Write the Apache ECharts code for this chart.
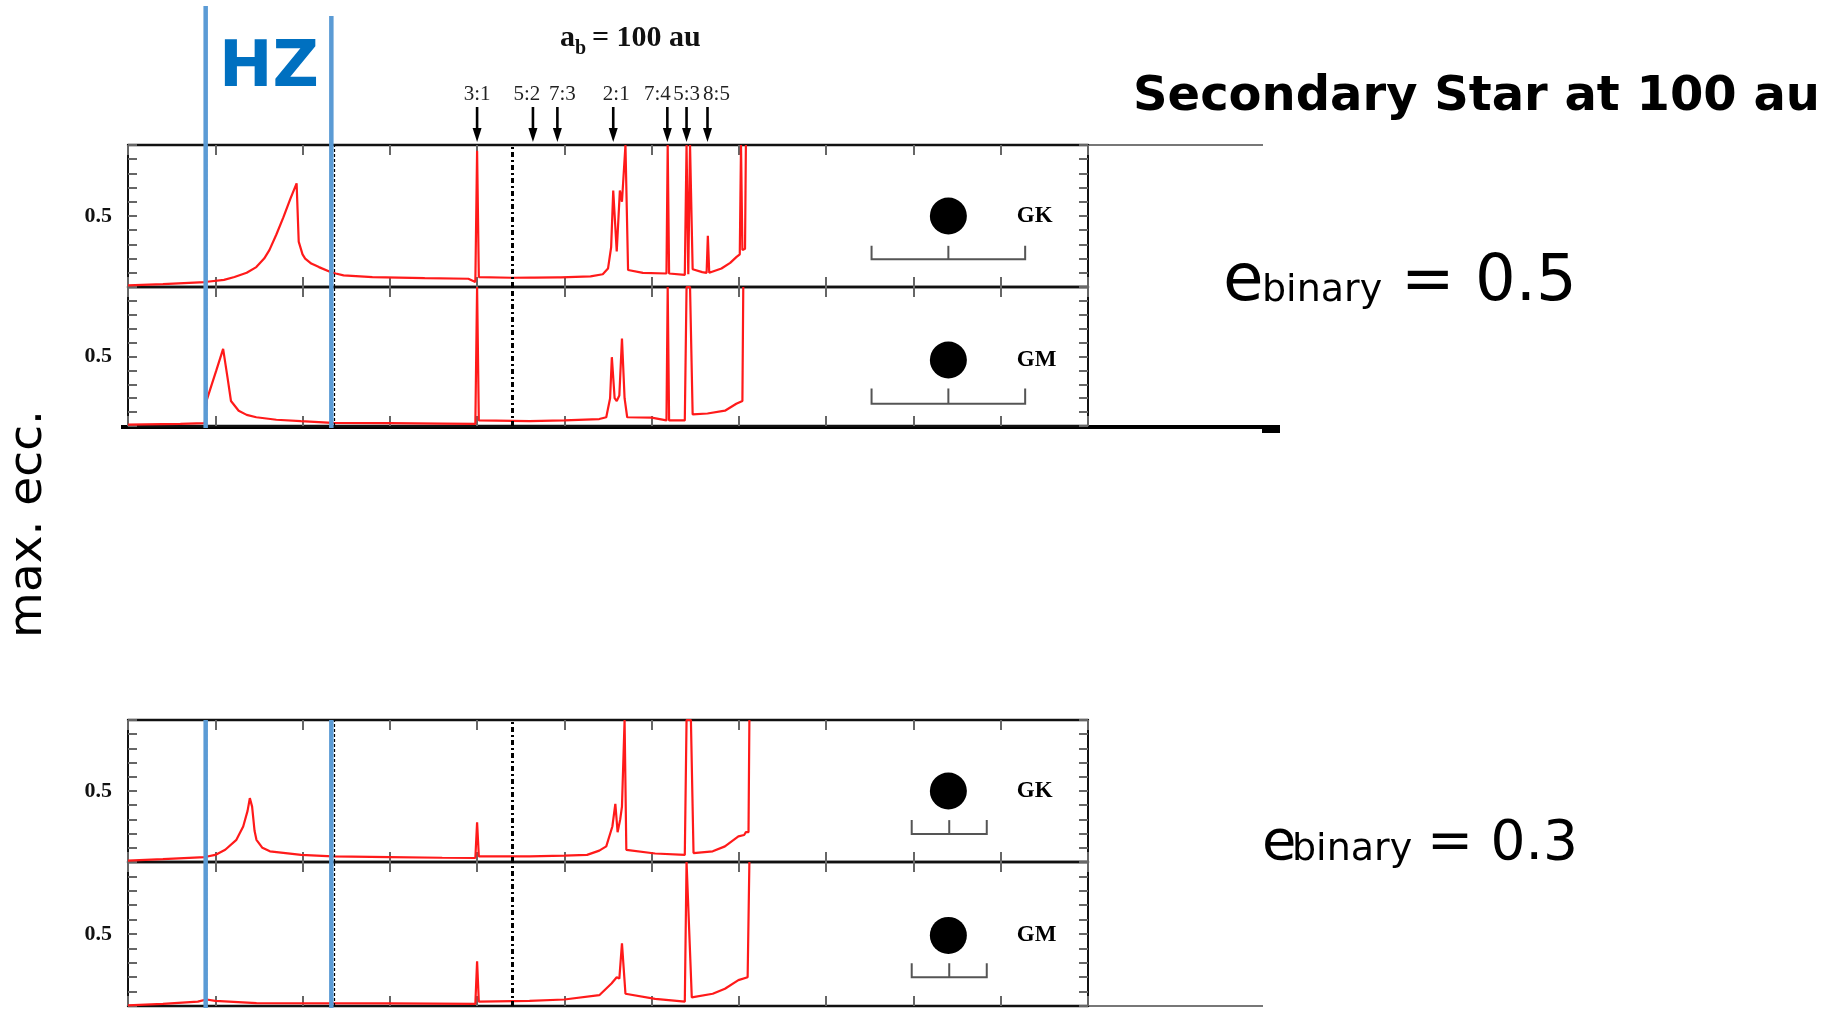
<!DOCTYPE html>
<html>
<head>
<meta charset="utf-8">
<title>Secondary Star at 100 au</title>
<script src="https://cdn.jsdelivr.net/npm/echarts@6/dist/echarts.min.js"></script>
<style>
  html, body { margin: 0; padding: 0; background: #fff; }
  #chart { width: 1832px; height: 1015px; }
</style>
</head>
<body>
<div id="chart"></div>
<script>
// max. eccentricity of a test planet vs its semi-major axis (au)
const gkEb05 = [[0.50,0.012],[0.70,0.02],[0.94,0.035],[1.05,0.05],[1.11,0.07],[1.18,0.10],[1.235,0.14],[1.28,0.20],[1.31,0.26],[1.35,0.37],[1.39,0.49],[1.43,0.62],[1.466,0.73],[1.478,0.32],[1.50,0.23],[1.515,0.20],[1.55,0.165],[1.594,0.14],[1.66,0.105],[1.69,0.095],[1.735,0.082],[1.9,0.07],[2.2,0.062],[2.45,0.058],[2.49,0.035],[2.50,0.96],[2.51,0.07],[2.70,0.065],[2.81,0.066],[2.82,0.078],[2.83,0.066],[2.96,0.068],[2.97,0.078],[2.98,0.068],[3.15,0.075],[3.22,0.09],[3.25,0.13],[3.268,0.28],[3.28,0.68],[3.30,0.25],[3.318,0.68],[3.33,0.60],[3.35,1.0],[3.365,0.12],[3.45,0.10],[3.585,0.095],[3.592,1.0],[3.60,0.095],[3.69,0.085],[3.70,1.0],[3.71,0.09],[3.72,1.0],[3.735,0.125],[3.79,0.105],[3.815,0.10],[3.822,0.36],[3.83,0.10],[3.90,0.13],[3.95,0.17],[3.985,0.21],[4.005,0.23],[4.012,1.0],[4.02,0.26],[4.035,0.27],[4.04,1.0]];
const gmEb05 = [[0.50,0.01],[0.80,0.015],[0.94,0.02],[0.952,0.19],[0.98,0.30],[1.006,0.40],[1.045,0.555],[1.07,0.35],[1.09,0.18],[1.134,0.11],[1.18,0.08],[1.235,0.063],[1.35,0.045],[1.49,0.035],[1.67,0.023],[2.0,0.02],[2.3,0.017],[2.49,0.015],[2.50,1.0],[2.51,0.04],[2.8,0.035],[3.0,0.04],[3.2,0.05],[3.24,0.063],[3.262,0.2],[3.272,0.495],[3.288,0.2],[3.30,0.18],[3.315,0.22],[3.33,0.63],[3.345,0.2],[3.36,0.063],[3.5,0.06],[3.585,0.04],[3.592,1.0],[3.60,0.04],[3.69,0.04],[3.70,1.0],[3.72,1.0],[3.735,0.083],[3.82,0.09],[3.92,0.11],[3.985,0.16],[4.02,0.18],[4.025,1.0]];
const gkEb03 = [[0.50,0.01],[0.70,0.02],[0.94,0.035],[1.0,0.05],[1.057,0.086],[1.121,0.156],[1.16,0.25],[1.185,0.36],[1.198,0.45],[1.211,0.39],[1.225,0.22],[1.236,0.156],[1.27,0.10],[1.313,0.075],[1.492,0.05],[1.671,0.04],[2.0,0.035],[2.3,0.03],[2.49,0.028],[2.50,0.28],[2.51,0.04],[2.8,0.04],[3.0,0.045],[3.13,0.05],[3.2,0.08],[3.24,0.11],[3.275,0.25],[3.292,0.41],[3.305,0.21],[3.32,0.30],[3.33,0.39],[3.345,1.0],[3.355,0.086],[3.52,0.06],[3.69,0.05],[3.70,1.0],[3.725,1.0],[3.74,0.063],[3.85,0.075],[3.92,0.11],[3.997,0.18],[4.03,0.19],[4.04,0.21],[4.055,0.21],[4.06,1.0]];
const gmEb03 = [[0.50,0.005],[0.70,0.015],[0.90,0.03],[0.95,0.045],[1.0,0.035],[1.236,0.02],[2.0,0.018],[2.49,0.015],[2.50,0.31],[2.51,0.03],[2.8,0.035],[3.0,0.045],[3.2,0.075],[3.27,0.156],[3.30,0.2],[3.315,0.19],[3.33,0.435],[3.35,0.085],[3.52,0.05],[3.69,0.03],[3.70,1.0],[3.73,0.06],[3.85,0.085],[3.92,0.12],[3.997,0.18],[4.05,0.2],[4.06,1.0]];

const resonances = ["3:1", "5:2", "7:3", "2:1", "7:4", "5:3", "8:5"];
const resonanceA = [2.50, 2.82, 2.96, 3.28, 3.59, 3.70, 3.82];
const hzEdges = [0.945, 1.665];
const oldHzEdges = [0.955, 1.684];
const dottedA = 2.7;
const giantA = 5.2;
const giantRanges = [[4.76, 5.64], [4.76, 5.64], [4.99, 5.42], [4.99, 5.42]];
const bracketE = [[0.195, 0.29], [0.16, 0.27], [0.198, 0.295], [0.2, 0.297]];
const panelNames = ["GK", "GM", "GK", "GM"];
const planetE = [0.5, 0.475, 0.5, 0.49];

// layout (pixels)
const gridLeft = 128;
const gridWidth = 960;
const panels = [
  { data: gkEb05, top: 145, height: 142 },
  { data: gmEb05, top: 287, height: 139 },
  { data: gkEb03, top: 720, height: 142 },
  { data: gmEb03, top: 862, height: 144 },
];
const labelShift = [0, -6, 5, 3, -10, 0, 9];
const hzTopPx = [6, 16];

const serif = "'Liberation Serif', 'Times New Roman', serif";
const sans = "'DejaVu Sans', sans-serif";
const red = "#ff1a1a";
const blue = "#5b9bd5";
const tickColor = "#666";

const chart = echarts.init(document.getElementById("chart"));

const grids = [];
const xAxes = [];
const yAxes = [];
const series = [];

panels.forEach((p, g) => {
  grids.push({ left: gridLeft, top: p.top, width: gridWidth, height: p.height });

  ["bottom", "top"].forEach((pos) => {
    xAxes.push({
      type: "value",
      gridIndex: g,
      position: pos,
      min: 0.5,
      max: 6.0,
      interval: 0.5,
      axisLine: { show: true, onZero: false, lineStyle: { color: "#111", width: 2.4 } },
      axisTick: { show: true, inside: true, length: 10, lineStyle: { color: tickColor, width: 2 } },
      axisLabel: { show: false },
      splitLine: { show: false },
    });
  });

  ["left", "right"].forEach((pos) => {
    yAxes.push({
      type: "value",
      gridIndex: g,
      position: pos,
      min: 0,
      max: 1,
      interval: 0.1,
      axisLine: { show: true, onZero: false, lineStyle: { color: "#111", width: 2 } },
      axisTick: { show: true, inside: true, length: 9, lineStyle: { color: tickColor, width: 2 } },
      axisLabel: {
        show: pos === "left",
        margin: 16,
        fontFamily: serif,
        fontWeight: "bold",
        fontSize: 22,
        color: "#111",
        formatter: (v) => (Math.abs(v - 0.5) < 1e-6 ? "0.5" : ""),
      },
      splitLine: { show: false },
    });
  });

  // red max. eccentricity curve
  series.push({
    type: "line",
    xAxisIndex: 2 * g,
    yAxisIndex: 2 * g,
    data: p.data,
    showSymbol: false,
    lineStyle: { color: red, width: 2.2 },
    z: 3,
    markLine: {
      silent: true,
      symbol: ["none", "none"],
      label: { show: false },
      data: [
        { xAxis: dottedA, lineStyle: { color: "#000", width: 3, type: [5, 3, 2, 3] } },
        { xAxis: oldHzEdges[0], lineStyle: { color: "#000", width: 1.2, type: [3, 2] } },
        { xAxis: oldHzEdges[1], lineStyle: { color: "#000", width: 1.2, type: [3, 2] } },
      ],
    },
  });

  // giant planet
  series.push({
    type: "scatter",
    xAxisIndex: 2 * g,
    yAxisIndex: 2 * g,
    data: [[giantA, planetE[g]]],
    symbol: "circle",
    symbolSize: 37,
    itemStyle: { color: "#000", opacity: 1 },
    label: {
      show: true,
      position: "right",
      distance: 50,
      formatter: panelNames[g],
      fontFamily: serif,
      fontWeight: "bold",
      fontSize: 23,
      color: "#000",
    },
    z: 4,
  });

  // peri / apo bracket of the giant planet
  series.push({
    type: "custom",
    xAxisIndex: 2 * g,
    yAxisIndex: 2 * g,
    data: [[giantRanges[g][0], giantRanges[g][1], bracketE[g][0], bracketE[g][1]]],
    renderItem: (params, api) => {
      const lo = api.value(0), hi = api.value(1);
      const pb = api.coord([lo, api.value(2)]);
      const pe = api.coord([hi, api.value(2)]);
      const yTop = api.coord([lo, api.value(3)])[1];
      const xm = api.coord([(lo + hi) / 2, 0])[0];
      const st = { stroke: "#555", lineWidth: 2, fill: null };
      return {
        type: "group",
        children: [
          { type: "polyline", shape: { points: [[pb[0], yTop], [pb[0], pb[1]], [pe[0], pe[1]], [pe[0], yTop]] }, style: st },
          { type: "line", shape: { x1: xm, y1: pb[1], x2: xm, y2: yTop }, style: st },
        ],
      };
    },
    z: 4,
  });
});

// resonance arrows above the first panel
series.push({
  type: "custom",
  xAxisIndex: 0,
  yAxisIndex: 0,
  clip: false,
  data: resonanceA.map((a) => [a, 1]),
  renderItem: (params, api) => {
    const pt = api.coord([api.value(0), 1]);
    const x = pt[0], top = pt[1];
    const i = params.dataIndex;
    return {
      type: "group",
      children: [
        { type: "line", shape: { x1: x, y1: top - 38, x2: x, y2: top - 14 }, style: { stroke: "#000", lineWidth: 2.6 } },
        { type: "polygon", shape: { points: [[x - 4.5, top - 17], [x + 4.5, top - 17], [x, top - 3]] }, style: { fill: "#000" } },
        {
          type: "text",
          x: x + labelShift[i],
          y: top - 51,
          style: { text: resonances[i], font: "21px " + serif, fill: "#222", textAlign: "center", textVerticalAlign: "middle" },
        },
      ],
    };
  },
  z: 5,
});

// habitable zone borders, top pair (run above the plot) and bottom pair
series.push({
  type: "custom",
  xAxisIndex: 0,
  yAxisIndex: 0,
  clip: false,
  data: hzEdges.map((a) => [a, 0]),
  renderItem: (params, api) => {
    const x = api.coord([api.value(0), 0])[0];
    return { type: "line", shape: { x1: x, y1: hzTopPx[params.dataIndex], x2: x, y2: 428 }, style: { stroke: blue, lineWidth: 4.5 } };
  },
  z: 6,
});
series.push({
  type: "custom",
  xAxisIndex: 4,
  yAxisIndex: 4,
  clip: false,
  data: hzEdges.map((a) => [a, 1]),
  renderItem: (params, api) => {
    const pt = api.coord([api.value(0), 1]);
    return { type: "line", shape: { x1: pt[0], y1: pt[1], x2: pt[0], y2: 1008 }, style: { stroke: blue, lineWidth: 4.5 } };
  },
  z: 6,
});

const option = {
  animation: false,
  backgroundColor: "#fff",
  grid: grids,
  xAxis: xAxes,
  yAxis: yAxes,
  series: series,
  graphic: [
    // frame extensions
    { type: "line", shape: { x1: 1088, y1: 145, x2: 1263, y2: 145 }, style: { stroke: "#777", lineWidth: 2 } },
    { type: "line", shape: { x1: 1088, y1: 1006, x2: 1263, y2: 1006 }, style: { stroke: "#777", lineWidth: 2 } },
    { type: "line", shape: { x1: 121, y1: 427, x2: 1280, y2: 427 }, style: { stroke: "#000", lineWidth: 4 } },
    { type: "rect", shape: { x: 1262, y: 425, width: 18, height: 8 }, style: { fill: "#000" } },
    // texts
    {
      type: "text", x: 269, y: 69,
      style: { text: "HZ", font: "bold 64px " + sans, fill: "#0070c0", textAlign: "center", textVerticalAlign: "middle" },
    },
    {
      type: "text", x: 560, y: 38,
      style: { text: "a", font: "bold 30px " + serif, fill: "#111", textAlign: "left", textVerticalAlign: "middle" },
    },
    {
      type: "text", x: 575, y: 49,
      style: { text: "b", font: "bold 20px " + serif, fill: "#111", textAlign: "left", textVerticalAlign: "middle" },
    },
    {
      type: "text", x: 592, y: 38,
      style: { text: "= 100 au", font: "bold 30px " + serif, fill: "#111", textAlign: "left", textVerticalAlign: "middle" },
    },
    {
      type: "text", x: 1133, y: 98,
      style: { text: "Secondary Star at 100 au", font: "bold 48px " + sans, fill: "#000", textAlign: "left", textVerticalAlign: "middle" },
    },
    {
      type: "text", x: 29, y: 524, rotation: Math.PI / 2,
      style: { text: "max. ecc.", font: "47px " + sans, fill: "#000", textAlign: "center", textVerticalAlign: "middle" },
    },
    // e_binary = 0.5
    { type: "text", x: 1223, y: 301 - 0.27 * 66, style: { text: "e", font: "66px " + sans, fill: "#000", textAlign: "left", textVerticalAlign: "middle" } },
    { type: "text", x: 1262, y: 301 - 0.27 * 38, style: { text: "binary", font: "38px " + sans, fill: "#000", textAlign: "left", textVerticalAlign: "middle" } },
    { type: "text", x: 1401, y: 301 - 0.27 * 64, style: { text: "= 0.5", font: "64px " + sans, fill: "#000", textAlign: "left", textVerticalAlign: "middle" } },
    // e_binary = 0.3
    { type: "text", x: 1262, y: 860 - 0.27 * 56, style: { text: "e", font: "56px " + sans, fill: "#000", textAlign: "left", textVerticalAlign: "middle" } },
    { type: "text", x: 1292, y: 860 - 0.27 * 38, style: { text: "binary", font: "38px " + sans, fill: "#000", textAlign: "left", textVerticalAlign: "middle" } },
    { type: "text", x: 1427, y: 860 - 0.27 * 55, style: { text: "= 0.3", font: "55px " + sans, fill: "#000", textAlign: "left", textVerticalAlign: "middle" } },
  ],
};

chart.setOption(option);
</script>
</body>
</html>
